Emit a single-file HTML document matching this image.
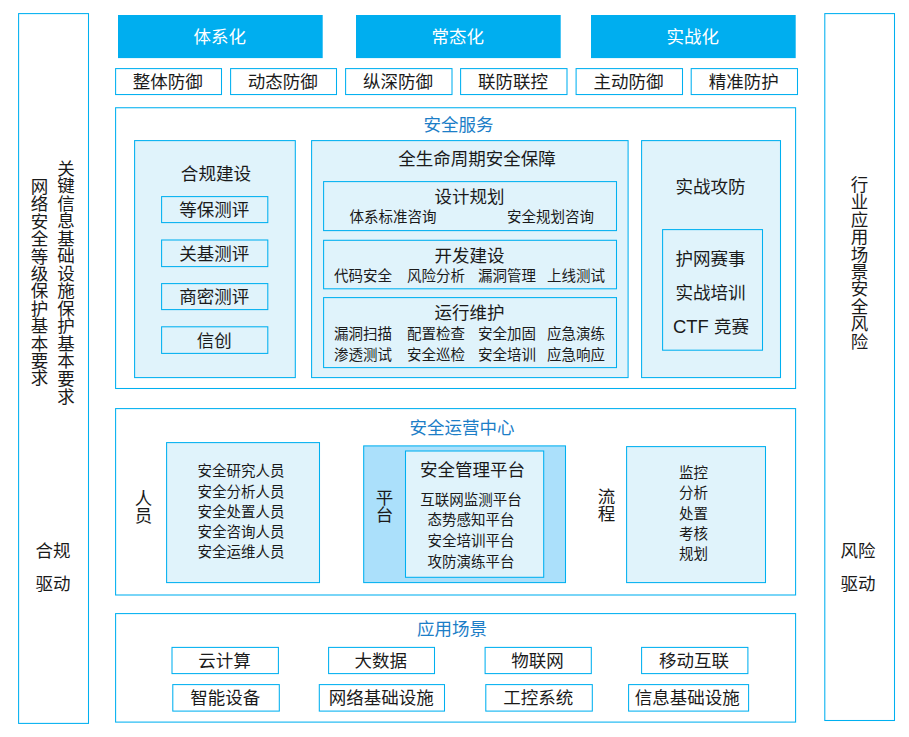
<!DOCTYPE html>
<html lang="zh-CN">
<head>
<meta charset="utf-8">
<title>安全服务体系</title>
<style>
html,body{margin:0;padding:0;background:#fff;}
body{width:909px;height:737px;position:relative;overflow:hidden;font-family:"Liberation Sans","Noto Sans CJK SC",sans-serif;color:#1a1a1a;}
svg{position:absolute;left:0;top:0;}
.t{position:absolute;transform:translate(-50%,-50%);white-space:nowrap;line-height:1;}
.w{color:#fff;}
.v{position:absolute;transform:translate(-50%,0);text-align:center;}
.v span{display:block;}
</style>
</head>
<body>
<svg width="909" height="737" viewBox="0 0 909 737">
<rect x="18.6" y="13.6" width="69.9" height="709.8" fill="#fff" stroke="#00b0f0" stroke-width="1.05"/>
<rect x="824.8" y="13.6" width="69.7" height="706.9" fill="#fff" stroke="#00b0f0" stroke-width="1.05"/>
<rect x="118" y="15" width="204.7" height="43.1" fill="#00aeef"/>
<rect x="356" y="15" width="204.7" height="43.1" fill="#00aeef"/>
<rect x="591" y="15" width="204.7" height="43.1" fill="#00aeef"/>
<rect x="115.6" y="68.6" width="105.9" height="25.95" fill="#fff" stroke="#00b0f0" stroke-width="1.05"/>
<rect x="230.6" y="68.6" width="105.9" height="25.95" fill="#fff" stroke="#00b0f0" stroke-width="1.05"/>
<rect x="345.6" y="68.6" width="106.4" height="25.95" fill="#fff" stroke="#00b0f0" stroke-width="1.05"/>
<rect x="460.6" y="68.6" width="106.4" height="25.95" fill="#fff" stroke="#00b0f0" stroke-width="1.05"/>
<rect x="576.1" y="68.6" width="106.4" height="25.95" fill="#fff" stroke="#00b0f0" stroke-width="1.05"/>
<rect x="691.2" y="68.6" width="106.3" height="25.95" fill="#fff" stroke="#00b0f0" stroke-width="1.05"/>
<rect x="115.6" y="107.75" width="680" height="280.75" fill="#fff" stroke="#00b0f0" stroke-width="1.05"/>
<rect x="134.6" y="140.6" width="160.7" height="237" fill="#e0f3fb" stroke="#00b0f0" stroke-width="1.05"/>
<rect x="161.6" y="196.6" width="106.2" height="26" fill="#e0f3fb" stroke="#00b0f0" stroke-width="1.05"/>
<rect x="161.6" y="240" width="106.2" height="26.6" fill="#e0f3fb" stroke="#00b0f0" stroke-width="1.05"/>
<rect x="161.6" y="283.6" width="106.2" height="26" fill="#e0f3fb" stroke="#00b0f0" stroke-width="1.05"/>
<rect x="161.6" y="326.8" width="106.2" height="26.6" fill="#e0f3fb" stroke="#00b0f0" stroke-width="1.05"/>
<rect x="311.6" y="140.6" width="316.5" height="237" fill="#e0f3fb" stroke="#00b0f0" stroke-width="1.05"/>
<rect x="323.6" y="181.6" width="292.9" height="49" fill="#e0f3fb" stroke="#00b0f0" stroke-width="1.05"/>
<rect x="323.6" y="240.3" width="292.9" height="48.5" fill="#e0f3fb" stroke="#00b0f0" stroke-width="1.05"/>
<rect x="323.6" y="297.6" width="292.9" height="70" fill="#e0f3fb" stroke="#00b0f0" stroke-width="1.05"/>
<rect x="641.6" y="140.6" width="138.9" height="237" fill="#e0f3fb" stroke="#00b0f0" stroke-width="1.05"/>
<rect x="662.6" y="229.6" width="99.9" height="120.6" fill="#e0f3fb" stroke="#00b0f0" stroke-width="1.05"/>
<rect x="115.6" y="408.6" width="680" height="186.4" fill="#fff" stroke="#00b0f0" stroke-width="1.05"/>
<rect x="166.6" y="442.6" width="152.9" height="140" fill="#e0f3fb" stroke="#00b0f0" stroke-width="1.05"/>
<rect x="363.7" y="445.9" width="201.8" height="136.7" fill="#abe0fb" stroke="#00b0f0" stroke-width="1.05"/>
<rect x="405.5" y="451" width="138.2" height="126.3" fill="#e0f3fb" stroke="#00b0f0" stroke-width="1.05"/>
<rect x="626.6" y="446.6" width="138.9" height="136" fill="#e0f3fb" stroke="#00b0f0" stroke-width="1.05"/>
<rect x="115.6" y="613.6" width="680" height="108.5" fill="#fff" stroke="#00b0f0" stroke-width="1.05"/>
<rect x="172" y="647.4" width="106.4" height="26.2" fill="#fff" stroke="#00b0f0" stroke-width="1.05"/>
<rect x="328.6" y="647.4" width="105.9" height="26.2" fill="#fff" stroke="#00b0f0" stroke-width="1.05"/>
<rect x="485.1" y="647.4" width="106.2" height="26.2" fill="#fff" stroke="#00b0f0" stroke-width="1.05"/>
<rect x="641.6" y="647.4" width="106.3" height="26.2" fill="#fff" stroke="#00b0f0" stroke-width="1.05"/>
<rect x="172.8" y="684.6" width="106.5" height="26.5" fill="#fff" stroke="#00b0f0" stroke-width="1.05"/>
<rect x="319.3" y="684.6" width="125.2" height="26.5" fill="#fff" stroke="#00b0f0" stroke-width="1.05"/>
<rect x="485.8" y="684.6" width="106.5" height="26.5" fill="#fff" stroke="#00b0f0" stroke-width="1.05"/>
<rect x="628.6" y="684.6" width="120" height="26.5" fill="#fff" stroke="#00b0f0" stroke-width="1.05"/>
</svg>
<div class="v" style="left:39.5px;top:179px;font-size:17.5px;line-height:17.4px"><span>网</span><span>络</span><span>安</span><span>全</span><span>等</span><span>级</span><span>保</span><span>护</span><span>基</span><span>本</span><span>要</span><span>求</span></div>
<div class="v" style="left:66px;top:160.6px;font-size:17.5px;line-height:17.53px"><span>关</span><span>键</span><span>信</span><span>息</span><span>基</span><span>础</span><span>设</span><span>施</span><span>保</span><span>护</span><span>基</span><span>本</span><span>要</span><span>求</span></div>
<div class="t" style="left:53px;top:551.9px;font-size:17.5px;">合规</div>
<div class="t" style="left:53px;top:584.9px;font-size:17.5px;">驱动</div>
<div class="v" style="left:859.6px;top:177px;font-size:17.5px;line-height:17.4px"><span>行</span><span>业</span><span>应</span><span>用</span><span>场</span><span>景</span><span>安</span><span>全</span><span>风</span><span>险</span></div>
<div class="t" style="left:858px;top:551.5px;font-size:17.5px;">风险</div>
<div class="t" style="left:858px;top:584.5px;font-size:17.5px;">驱动</div>
<div class="t w" style="left:219.65px;top:37.55px;font-size:17.5px;">体系化</div>
<div class="t w" style="left:457.65px;top:37.55px;font-size:17.5px;">常态化</div>
<div class="t w" style="left:692.65px;top:37.55px;font-size:17.5px;">实战化</div>
<div class="t" style="left:167.85px;top:82.575px;font-size:17.5px;">整体防御</div>
<div class="t" style="left:282.85px;top:82.575px;font-size:17.5px;">动态防御</div>
<div class="t" style="left:398.1px;top:82.575px;font-size:17.5px;">纵深防御</div>
<div class="t" style="left:513.1px;top:82.575px;font-size:17.5px;">联防联控</div>
<div class="t" style="left:628.6px;top:82.575px;font-size:17.5px;">主动防御</div>
<div class="t" style="left:743.65px;top:82.575px;font-size:17.5px;">精准防护</div>
<div class="t" style="left:458.5px;top:126.3px;font-size:17.5px;color:#1c7ec7;">安全服务</div>
<div class="t" style="left:216px;top:175.2px;font-size:17.6px;">合规建设</div>
<div class="t" style="left:214.2px;top:211px;font-size:17.5px;">等保测评</div>
<div class="t" style="left:214.2px;top:254.7px;font-size:17.5px;">关基测评</div>
<div class="t" style="left:214.2px;top:298px;font-size:17.5px;">商密测评</div>
<div class="t" style="left:214.2px;top:341.5px;font-size:17.5px;">信创</div>
<div class="t" style="left:477px;top:160.2px;font-size:17.5px;">全生命周期安全保障</div>
<div class="t" style="left:469.5px;top:198.4px;font-size:17.5px;">设计规划</div>
<div class="t" style="left:393px;top:217.4px;font-size:14.5px;">体系标准咨询</div>
<div class="t" style="left:550.5px;top:217.4px;font-size:14.5px;">安全规划咨询</div>
<div class="t" style="left:469.5px;top:257.4px;font-size:17.5px;">开发建设</div>
<div class="t" style="left:363px;top:276.4px;font-size:14.5px;">代码安全</div>
<div class="t" style="left:436px;top:276.4px;font-size:14.5px;">风险分析</div>
<div class="t" style="left:507px;top:276.4px;font-size:14.5px;">漏洞管理</div>
<div class="t" style="left:576px;top:276.4px;font-size:14.5px;">上线测试</div>
<div class="t" style="left:469.5px;top:314.3px;font-size:17.5px;">运行维护</div>
<div class="t" style="left:363px;top:334.4px;font-size:14.5px;">漏洞扫描</div>
<div class="t" style="left:436px;top:334.4px;font-size:14.5px;">配置检查</div>
<div class="t" style="left:507px;top:334.4px;font-size:14.5px;">安全加固</div>
<div class="t" style="left:576px;top:334.4px;font-size:14.5px;">应急演练</div>
<div class="t" style="left:363px;top:355.4px;font-size:14.5px;">渗透测试</div>
<div class="t" style="left:436px;top:355.4px;font-size:14.5px;">安全巡检</div>
<div class="t" style="left:507px;top:355.4px;font-size:14.5px;">安全培训</div>
<div class="t" style="left:576px;top:355.4px;font-size:14.5px;">应急响应</div>
<div class="t" style="left:710.5px;top:188.3px;font-size:17.5px;">实战攻防</div>
<div class="t" style="left:710.5px;top:260px;font-size:17.5px;">护网赛事</div>
<div class="t" style="left:710.5px;top:294px;font-size:17.5px;">实战培训</div>
<div class="t" style="left:711px;top:327.3px;font-size:17.5px;word-spacing:0.4px;"><span style="font-size:18.4px">CTF</span> 竞赛</div>
<div class="t" style="left:462px;top:429.3px;font-size:17.5px;color:#1c7ec7;">安全运营中心</div>
<div class="v" style="left:143.5px;top:490.6px;font-size:17.5px;line-height:17px"><span>人</span><span>员</span></div>
<div class="t" style="left:241px;top:471.4px;font-size:14.5px;">安全研究人员</div>
<div class="t" style="left:241px;top:491.6px;font-size:14.5px;">安全分析人员</div>
<div class="t" style="left:241px;top:511.8px;font-size:14.5px;">安全处置人员</div>
<div class="t" style="left:241px;top:532px;font-size:14.5px;">安全咨询人员</div>
<div class="t" style="left:241px;top:552.2px;font-size:14.5px;">安全运维人员</div>
<div class="v" style="left:384.5px;top:490px;font-size:17.5px;line-height:17px"><span>平</span><span>台</span></div>
<div class="t" style="left:472.5px;top:471px;font-size:17.5px;">安全管理平台</div>
<div class="t" style="left:471px;top:499.7px;font-size:14.5px;">互联网监测平台</div>
<div class="t" style="left:471px;top:520.3px;font-size:14.5px;">态势感知平台</div>
<div class="t" style="left:471px;top:540.9px;font-size:14.5px;">安全培训平台</div>
<div class="t" style="left:471px;top:561.5px;font-size:14.5px;">攻防演练平台</div>
<div class="v" style="left:606.5px;top:489.3px;font-size:17.5px;line-height:17px"><span>流</span><span>程</span></div>
<div class="t" style="left:693.4px;top:472.9px;font-size:14.5px;">监控</div>
<div class="t" style="left:693.4px;top:493.2px;font-size:14.5px;">分析</div>
<div class="t" style="left:693.4px;top:513.5px;font-size:14.5px;">处置</div>
<div class="t" style="left:693.4px;top:533.8px;font-size:14.5px;">考核</div>
<div class="t" style="left:693.4px;top:554.1px;font-size:14.5px;">规划</div>
<div class="t" style="left:451.9px;top:630.3px;font-size:17.5px;color:#1c7ec7;">应用场景</div>
<div class="t" style="left:224.5px;top:661.5px;font-size:17.5px;">云计算</div>
<div class="t" style="left:380.85px;top:661.5px;font-size:17.5px;">大数据</div>
<div class="t" style="left:537.5px;top:661.5px;font-size:17.5px;">物联网</div>
<div class="t" style="left:694.05px;top:661.5px;font-size:17.5px;">移动互联</div>
<div class="t" style="left:225.35px;top:698.85px;font-size:17.5px;">智能设备</div>
<div class="t" style="left:381.2px;top:698.85px;font-size:17.5px;">网络基础设施</div>
<div class="t" style="left:538.35px;top:698.85px;font-size:17.5px;">工控系统</div>
<div class="t" style="left:687.3px;top:698.85px;font-size:17.5px;">信息基础设施</div>
</body>
</html>
